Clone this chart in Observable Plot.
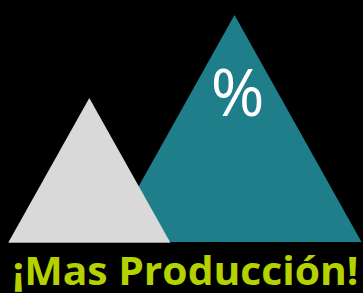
<!DOCTYPE html>
<html>
<head>
<meta charset="utf-8">
<script src="https://cdn.jsdelivr.net/npm/d3@7"></script>
<script src="https://cdn.jsdelivr.net/npm/@observablehq/plot@0.6"></script>
<style>
  html, body { margin: 0; padding: 0; background: #000; }
  #chart svg { display: block; }
</style>
</head>
<body>
<div id="chart"></div>
<script>
// Data
const categories = ["Antes", "Después"];
const peakHeights = [144, 227];       // triangle heights (y units)
const peakCenters = [89.3, 234.5];    // x centres
const peakHalfWidths = [80.7, 127];   // half base widths
const peakColors = ["#d9d9d9", "#1e7e8a"];
const peakLabel = "%";
const titleText = "¡Mas Producción!";

// Build triangle vertex rows from the arrays
const rows = [];
categories.forEach((c, i) => {
  rows.push({cat: c, x: peakCenters[i] - peakHalfWidths[i], y: 0});
  rows.push({cat: c, x: peakCenters[i], y: peakHeights[i]});
  rows.push({cat: c, x: peakCenters[i] + peakHalfWidths[i], y: 0});
});
const drawOrder = ["Después", "Antes"];

const marks = drawOrder.map(c => {
  const i = categories.indexOf(c);
  return Plot.areaY(rows.filter(r => r.cat === c), {
    x: "x", y: "y", fill: peakColors[i]
  });
});
marks.push(Plot.ruleY([0], {x1: peakCenters[0] - peakHalfWidths[0], x2: peakCenters[0] + peakHalfWidths[0], stroke: "#9a9a9a", strokeWidth: 1}));
marks.push(Plot.text([peakLabel], {
  x: peakCenters[1] + 2.5, y: peakHeights[1] * 0.65,
  text: d => d, fill: "white", fontSize: 65, fontFamily: "Open Sans", fontWeight: 400
}));
marks.push(Plot.text([titleText], {
  x: 185, y: -30, text: d => d, fill: "#b4d100",
  fontSize: 40, fontFamily: "Open Sans", fontWeight: 700, className: "title-text"
}));

const plot = Plot.plot({
  width: 363, height: 293,
  marginTop: 0, marginRight: 0, marginLeft: 0, marginBottom: 51,
  x: {domain: [0, 363], axis: null},
  y: {domain: [0, 242], axis: null},
  style: {background: "#000"},
  marks
});
document.getElementById("chart").appendChild(plot);
d3.select(plot).selectAll(".title-text text")
  .attr("textLength", 346).attr("lengthAdjust", "spacingAndGlyphs");
</script>
</body>
</html>
